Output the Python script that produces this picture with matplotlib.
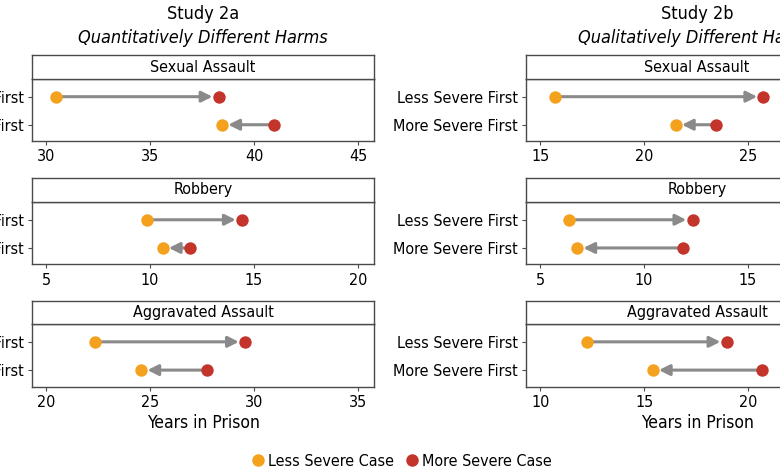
import matplotlib
matplotlib.use('Agg')
import matplotlib.pyplot as plt
from matplotlib.lines import Line2D

plt.rcParams['font.family'] = ['DejaVu Sans']
plt.rcParams['font.stretch'] = 'condensed'

# data
crimes = ['Sexual Assault', 'Robbery', 'Aggravated Assault']
orders = ['Less Severe First', 'More Severe First']

# values per crime: [Less Severe First row, More Severe First row]
study2a_less_case = [[30.48, 38.46], [9.86, 10.60], [22.36, 24.57]]
study2a_more_case = [[38.30, 40.94], [14.42, 11.94], [29.57, 27.74]]
study2b_less_case = [[15.72, 21.52], [6.37, 6.78], [12.27, 15.41]]
study2b_more_case = [[25.74, 23.44], [12.33, 11.85], [18.97, 20.69]]

study2a_tick_start = [30, 5, 20]
study2b_tick_start = [15, 5, 10]

titles = ['Study 2a', 'Study 2b']
subtitles = ['Quantitatively Different Harms', 'Qualitatively Different Harms']

less_color = '#F4A11E'
more_color = '#C3352B'
arrow_color = '#8A8A8A'
frame_color = '#4A4A4A'

W, H = 780, 470
fig = plt.figure(figsize=(W / 100, H / 100), dpi=100)

col_left = [32, 526]
col_width = 342
strip_top = [55, 177.5, 300.5]
strip_bot = [79.3, 202.3, 324.3]
ax_bot = [141, 264.3, 386.5]


def px_box(left, top, bottom, width):
    return [left / W, 1 - bottom / H, width / W, (bottom - top) / H]


studies = [
    (study2a_less_case, study2a_more_case, study2a_tick_start),
    (study2b_less_case, study2b_more_case, study2b_tick_start),
]

for c, (less_vals, more_vals, starts) in enumerate(studies):
    for r, crime in enumerate(crimes):
        ax = fig.add_axes(px_box(col_left[c], strip_bot[r], ax_bot[r], col_width))
        x0 = starts[r]
        ax.set_xlim(x0 - 0.68, x0 + 15.77)
        ax.set_ylim(1.58, -0.62)
        ax.set_xticks([x0 + 5 * k for k in range(4)])
        ax.set_yticks([0, 1])
        ax.set_yticklabels(orders)
        ax.tick_params(labelsize=11.5, length=3, width=0.8, color=frame_color, pad=3)
        for sp in ax.spines.values():
            sp.set_color(frame_color)
            sp.set_linewidth(1.0)

        for i in range(2):
            lv, mv = less_vals[r][i], more_vals[r][i]
            if i == 0:
                start, end = lv, mv
            else:
                start, end = mv, lv
            ax.annotate('', xy=(end, i), xytext=(start, i),
                        arrowprops=dict(arrowstyle='-|>', color=arrow_color, lw=2.2,
                                        mutation_scale=16, shrinkA=0, shrinkB=4.5),
                        zorder=1)
            ax.scatter([lv], [i], s=80, color=less_color, zorder=3, linewidths=0)
            ax.scatter([mv], [i], s=80, color=more_color, zorder=3, linewidths=0)

        # strip header
        sax = fig.add_axes(px_box(col_left[c], strip_top[r], strip_bot[r], col_width))
        sax.set_xticks([])
        sax.set_yticks([])
        for sp in sax.spines.values():
            sp.set_color(frame_color)
            sp.set_linewidth(1.0)
        sax.text(0.5, 0.5, crime, ha='center', va='center', fontsize=11.5,
                 transform=sax.transAxes)

        if r == 2:
            ax.set_xlabel('Years in Prison', fontsize=12.5, labelpad=3)

    cx = (col_left[c] + col_width / 2) / W
    fig.text(cx, 1 - 14 / H, titles[c], ha='center', va='center', fontsize=13)
    fig.text(cx, 1 - 38 / H, subtitles[c], ha='center', va='center', fontsize=13,
             style='italic')

handles = [
    Line2D([], [], marker='o', linestyle='none', markersize=9, color=less_color,
           markeredgewidth=0, label='Less Severe Case'),
    Line2D([], [], marker='o', linestyle='none', markersize=9, color=more_color,
           markeredgewidth=0, label='More Severe Case'),
]
fig.legend(handles=handles, loc='center', bbox_to_anchor=(0.514, 1 - 461 / H),
           ncol=2, frameon=False, fontsize=11.5, handletextpad=0.15, columnspacing=0.6,
           handlelength=1.0)

fig.savefig('out.png', dpi=100)
